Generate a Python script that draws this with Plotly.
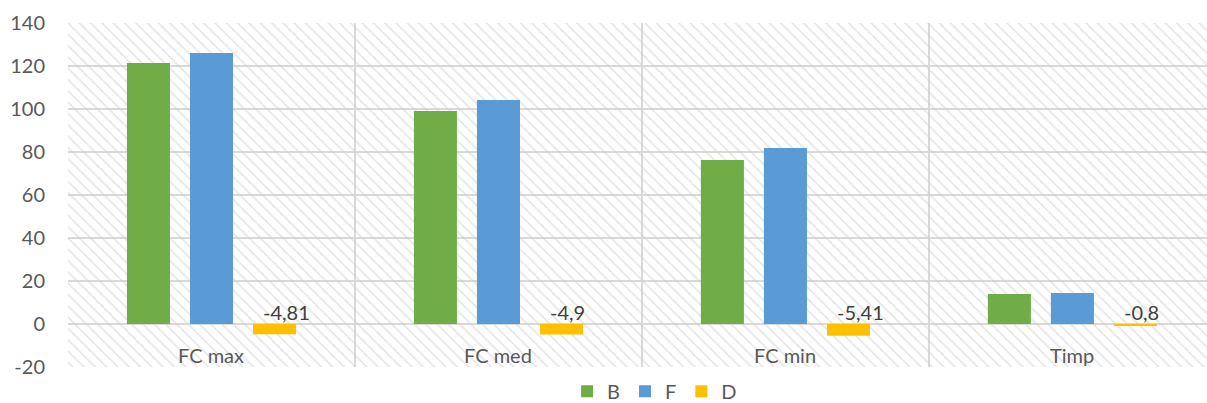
import plotly.graph_objects as go

# Categories and series values
categories = ["FC max", "FC med", "FC min", "Timp"]
series_names = ["B", "F", "D"]
b_values = [121.4, 99.1, 76.3, 14.0]
f_values = [126.0, 104.2, 81.9, 14.4]
d_values = [-4.81, -4.9, -5.41, -0.8]
y_ticks = [-20, 0, 20, 40, 60, 80, 100, 120, 140]

colors = {"B": "#70AD47", "F": "#5B9BD5", "D": "#FFC000"}
grid_color = "#D9D9D9"
text_color = "#595959"
font_family = "Lato, Open Sans, sans-serif"
font_size = 20

fig = go.Figure()

# Hatched plot-area background, drawn on a hidden numeric x axis underneath the data
fig.add_trace(go.Bar(
    x=[0.5], y=[y_ticks[-1] - y_ticks[0]], base=[y_ticks[0]], width=[1],
    xaxis="x", yaxis="y",
    marker=dict(color="rgba(0,0,0,0)", line=dict(width=0),
                pattern=dict(shape="\\", fgcolor="#CCCCCC", size=8, solidity=0.2)),
    showlegend=False, hoverinfo="skip",
))

for name, vals in zip(series_names, [b_values, f_values, d_values]):
    fig.add_trace(go.Bar(
        name=name, x=categories, y=vals, xaxis="x2", yaxis="y",
        marker=dict(color=colors[name], line=dict(width=0)),
    ))

annotations = []
# Value labels for the D series
slot = (1 - 0.341) / 3
for i, v in enumerate(d_values):
    annotations.append(dict(
        x=i + slot - 0.075, y=0, xref="x2", yref="y",
        text=f"{v:g}".replace(".", ","), showarrow=False,
        xanchor="left", yanchor="bottom", xshift=8, yshift=-2,
        font=dict(family=font_family, size=font_size, color="#404040"),
    ))
# Category labels sit just below the zero line
for i, c in enumerate(categories):
    annotations.append(dict(
        x=i, y=-14.4, xref="x2", yref="y", text=c, showarrow=False,
        xanchor="center", yanchor="middle",
        font=dict(family=font_family, size=font_size, color=text_color),
    ))

fig.update_layout(
    width=1207, height=403,
    margin=dict(l=68, r=0, t=23, b=36, autoexpand=False),
    paper_bgcolor="white", plot_bgcolor="white",
    font=dict(family=font_family, size=font_size, color=text_color),
    barmode="group", bargap=0.341, bargroupgap=0.317,
    xaxis=dict(range=[0, 1], visible=False, showgrid=False, zeroline=False, fixedrange=True),
    xaxis2=dict(
        overlaying="x", type="category", categoryorder="array", categoryarray=categories,
        range=[-0.5, 3.469], tickson="boundaries", showgrid=True,
        gridcolor=grid_color, gridwidth=1.5, showticklabels=False, ticks="",
        showline=False, zeroline=False,
    ),
    yaxis=dict(
        range=[y_ticks[0], y_ticks[-1]], tickvals=y_ticks,
        ticktext=[str(t) for t in y_ticks], showgrid=True,
        gridcolor=grid_color, gridwidth=1.5, zeroline=True, zerolinecolor=grid_color,
        zerolinewidth=1.5, showline=False, ticks="", ticklabelstandoff=22,
        tickfont=dict(family=font_family, size=font_size, color=text_color),
    ),
    legend=dict(
        orientation="h", x=0.515, xanchor="center", y=-0.127, yanchor="bottom",
        font=dict(family=font_family, size=font_size, color=text_color),
        traceorder="normal", itemclick=False,
    ),
    annotations=annotations,
    showlegend=True,
)

fig.write_html("out.html")
